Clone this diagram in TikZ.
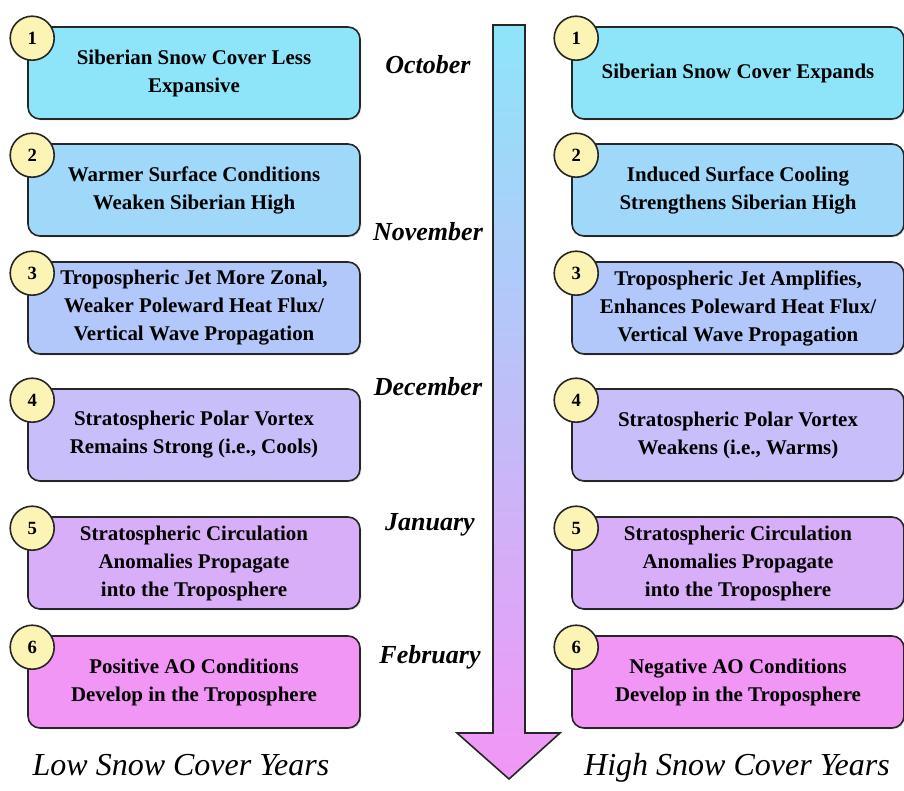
\documentclass[tikz,border=0pt]{standalone}
\usepackage{fontspec}
\setmainfont{Liberation Serif}
\usetikzlibrary{positioning,shadows}

\definecolor{octcol}{HTML}{8EE5FA}
\definecolor{novcol}{HTML}{A0D8FA}
\definecolor{deccol}{HTML}{B2C8FA}
\definecolor{jancol}{HTML}{C8BEFA}
\definecolor{febcol}{HTML}{D9AEF8}
\definecolor{marcol}{HTML}{F296F6}
\definecolor{numcol}{HTML}{FBF4B4}

\begin{document}
\begin{tikzpicture}[x=0.75pt,y=-0.75pt,
    stage/.style={draw=black!85, line width=1.2pt, rounded corners=9pt,
      minimum width=249pt, minimum height=69pt, align=center,
      drop shadow={shadow xshift=1pt, shadow yshift=-1pt, opacity=0.25},
      font=\fontsize{15.7}{21}\selectfont\bfseries},
    num/.style={circle, draw=black!85, line width=1.2pt, fill=numcol,
      minimum size=33pt, inner sep=0pt,
      font=\fontsize{14}{14}\selectfont\bfseries},
    month/.style={anchor=base, font=\fontsize{19.5}{20}\selectfont\bfseries\itshape},
    years/.style={anchor=base, font=\fontsize{24}{26}\selectfont\itshape}]
    \useasboundingbox (0,0) rectangle (904,790);
    \def\lx{194}
    \def\rx{738}
    % time arrow
    \coordinate (tl) at (493,25);
    \coordinate (tr) at (525,25);
    \coordinate (nr) at (525,733);
    \coordinate (hr) at (560,733);
    \coordinate (tip) at (509,779);
    \coordinate (hl) at (457,733);
    \coordinate (nl) at (493,733);
    \draw[line width=1.2pt, draw=black!85, top color=octcol, middle color=deccol, bottom color=marcol]
      (tl) -- (tr) -- (nr) -- (hr) -- (tip) -- (hl) -- (nl) -- cycle;
    % low snow cover years
    \node[stage, fill=octcol] (l1) at (\lx,73) {Siberian Snow Cover Less\\Expansive};
    \node[stage, fill=novcol] (l2) at (\lx,190) {Warmer Surface Conditions\\Weaken Siberian High};
    \node[stage, fill=deccol] (l3) at (\lx,308) {Tropospheric Jet More Zonal,\\Weaker Poleward Heat Flux/\\Vertical Wave Propagation};
    \node[stage, fill=jancol] (l4) at (\lx,435) {Stratospheric Polar Vortex\\Remains Strong (i.e., Cools)};
    \node[stage, fill=febcol] (l5) at (\lx,563) {Stratospheric Circulation\\Anomalies Propagate\\into the Troposphere};
    \node[stage, fill=marcol] (l6) at (\lx,682) {Positive AO Conditions\\Develop in the Troposphere};
    % high snow cover years
    \node[stage, fill=octcol] (r1) at (\rx,73) {Siberian Snow Cover Expands};
    \node[stage, fill=novcol] (r2) at (\rx,190) {Induced Surface Cooling\\Strengthens Siberian High};
    \node[stage, fill=deccol] (r3) at (\rx,308) {Tropospheric Jet Amplifies,\\Enhances Poleward Heat Flux/\\Vertical Wave Propagation};
    \node[stage, fill=jancol] (r4) at (\rx,435) {Stratospheric Polar Vortex\\Weakens (i.e., Warms)};
    \node[stage, fill=febcol] (r5) at (\rx,563) {Stratospheric Circulation\\Anomalies Propagate\\into the Troposphere};
    \node[stage, fill=marcol] (r6) at (\rx,682) {Negative AO Conditions\\Develop in the Troposphere};
    % step numbers
    \node[num] (nl1) at ([shift={(5,12)}]l1.north west) {1};
    \node[num] (nl2) at ([shift={(5,12)}]l2.north west) {2};
    \node[num] (nl3) at ([shift={(5,12)}]l3.north west) {3};
    \node[num] (nl4) at ([shift={(5,12)}]l4.north west) {4};
    \node[num] (nl5) at ([shift={(5,12)}]l5.north west) {5};
    \node[num] (nl6) at ([shift={(5,12)}]l6.north west) {6};
    \node[num] (nr1) at ([shift={(5,12)}]r1.north west) {1};
    \node[num] (nr2) at ([shift={(5,12)}]r2.north west) {2};
    \node[num] (nr3) at ([shift={(5,12)}]r3.north west) {3};
    \node[num] (nr4) at ([shift={(5,12)}]r4.north west) {4};
    \node[num] (nr5) at ([shift={(5,12)}]r5.north west) {5};
    \node[num] (nr6) at ([shift={(5,12)}]r6.north west) {6};
    % months
    \node[month] (oct) at (428,73) {October};
    \node[month] (nov) at (428,240) {November};
    \node[month] (dec) at (428,395) {December};
    \node[month] (jan) at (430,530) {January};
    \node[month] (feb) at (430,663) {February};
    \node[years] (low) at (181,775) {Low Snow Cover Years};
    \node[years] (high) at (737,775) {High Snow Cover Years};
\end{tikzpicture}
\end{document}
